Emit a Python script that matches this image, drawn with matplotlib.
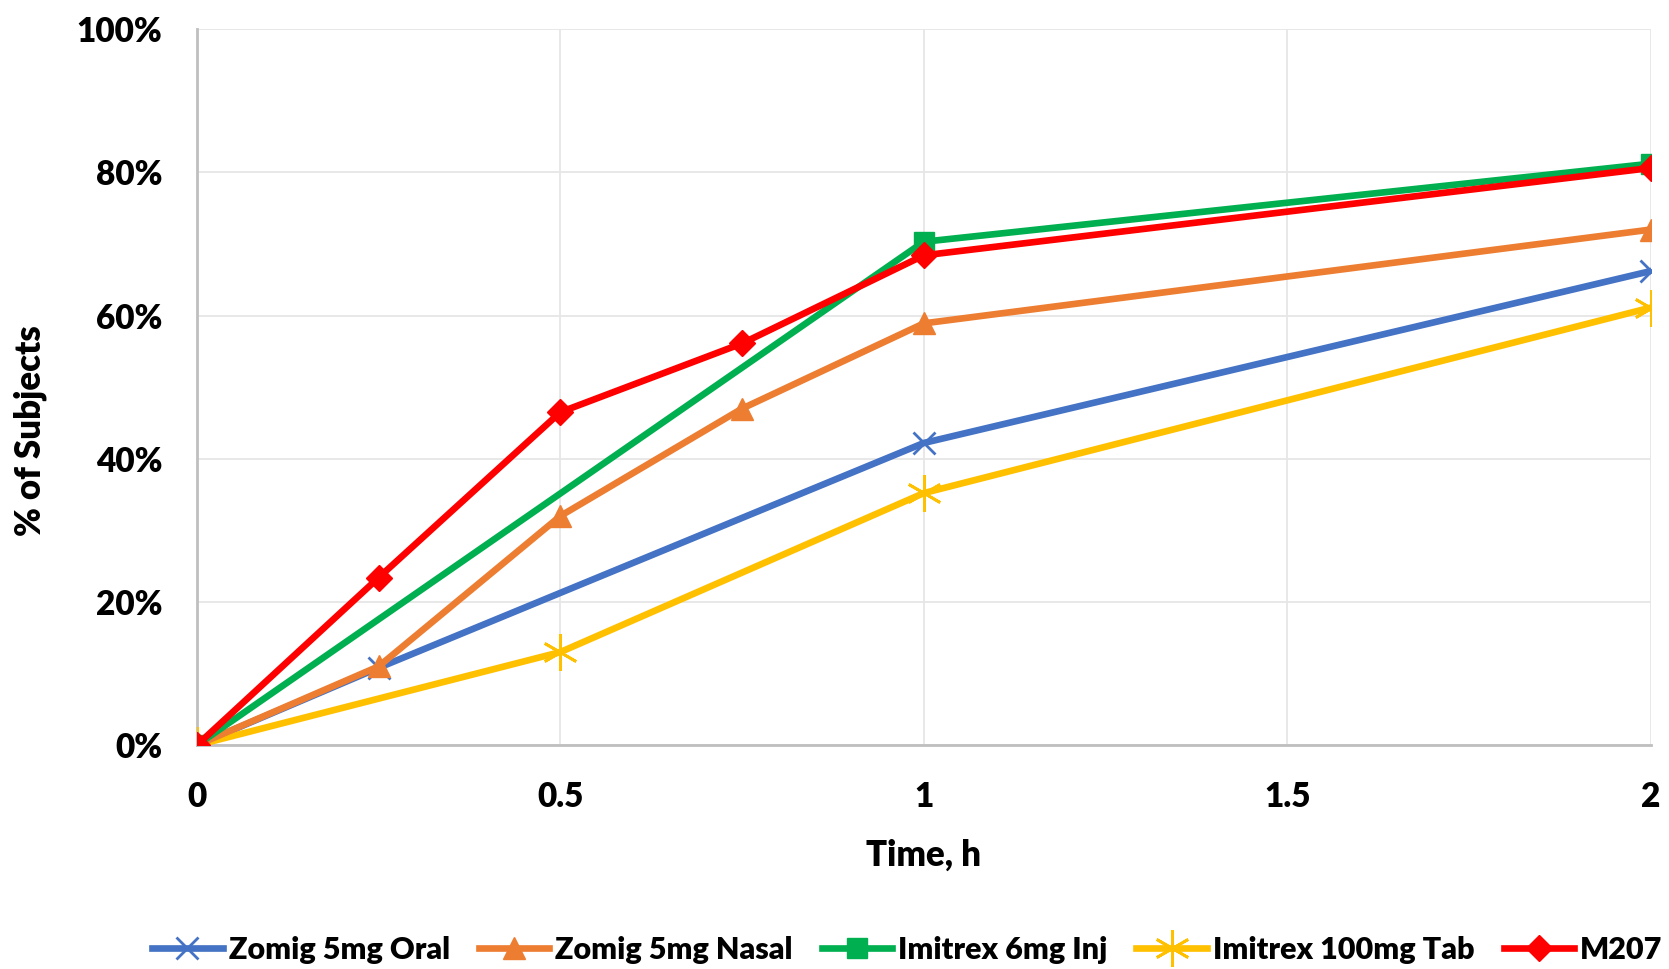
import matplotlib
matplotlib.use("Agg")
import matplotlib.pyplot as plt
from matplotlib.ticker import FuncFormatter

plt.rcParams['font.family'] = ['Lato', 'DejaVu Sans']
W = 'heavy'

zomig_oral_t = [0, 0.25, 1, 2]
zomig_oral_v = [0.0, 10.8, 42.2, 66.2]
zomig_nasal_t = [0, 0.25, 0.5, 0.75, 1, 2]
zomig_nasal_v = [0.0, 11.0, 32.0, 47.0, 58.9, 72.0]
imitrex_inj_t = [0, 1, 2]
imitrex_inj_v = [0.0, 70.3, 81.2]
imitrex_tab_t = [0, 0.5, 1, 2]
imitrex_tab_v = [0.0, 13.0, 35.2, 61.1]
m207_t = [0, 0.25, 0.5, 0.75, 1, 2]
m207_v = [0.0, 23.4, 46.5, 56.1, 68.4, 80.6]

fig = plt.figure(figsize=(16.69, 9.69), dpi=100)
ax = fig.add_axes([0.118, 0.231, 0.871, 0.739])

lw = 4.8
ax.plot(zomig_oral_t, zomig_oral_v, color='#4472C4', lw=lw, marker='x', ms=16, mew=2, label='Zomig 5mg Oral', zorder=3)
ax.plot(zomig_nasal_t, zomig_nasal_v, color='#ED7D31', lw=lw, marker='^', ms=16, label='Zomig 5mg Nasal', zorder=4)
ax.plot(imitrex_inj_t, imitrex_inj_v, color='#00B050', lw=lw, marker='s', ms=15, label='Imitrex 6mg Inj', zorder=5)
ax.plot(imitrex_tab_t, imitrex_tab_v, color='#FFC000', lw=lw, marker=(6, 2, 0), ms=26, mew=2, label='Imitrex 100mg Tab', zorder=3)
ax.plot(m207_t, m207_v, color='#FF0000', lw=lw, marker='D', ms=13, label='M207', zorder=6)

ax.set_xlim(0, 2)
ax.set_ylim(0, 100)
ax.set_xticks([0, 0.5, 1, 1.5, 2])
ax.set_xticklabels(['0', '0.5', '1', '1.5', '2'])
ax.set_yticks(range(0, 101, 20))
ax.yaxis.set_major_formatter(FuncFormatter(lambda v, p: f"{int(v)}%"))
ax.grid(True, color='#e6e6e6', lw=1.3)
ax.set_axisbelow(True)
for s in ['top', 'right']:
    ax.spines[s].set_visible(False)
for s in ['left', 'bottom']:
    ax.spines[s].set_color('#bfbfbf')
    ax.spines[s].set_linewidth(2)
ax.tick_params(axis='y', length=0, labelsize=24, pad=25)
ax.tick_params(axis='x', length=0, labelsize=24, pad=26)
for lbl in ax.get_xticklabels() + ax.get_yticklabels():
    lbl.set_fontweight(W)
ax.set_xlabel('Time, h', fontsize=25, fontweight=W, labelpad=18)
fig.text(0.0179, 0.556, '% of Subjects', rotation=90, ha='center', va='center',
         fontsize=25, fontweight=W)

leg = fig.legend(loc='center', bbox_to_anchor=(0.5436, 0.0196), ncol=5, frameon=False,
                 prop={'size': 22, 'weight': W}, handlelength=2.3, columnspacing=0.95,
                 handletextpad=0.2)
fig.savefig('out.png', dpi=100)
